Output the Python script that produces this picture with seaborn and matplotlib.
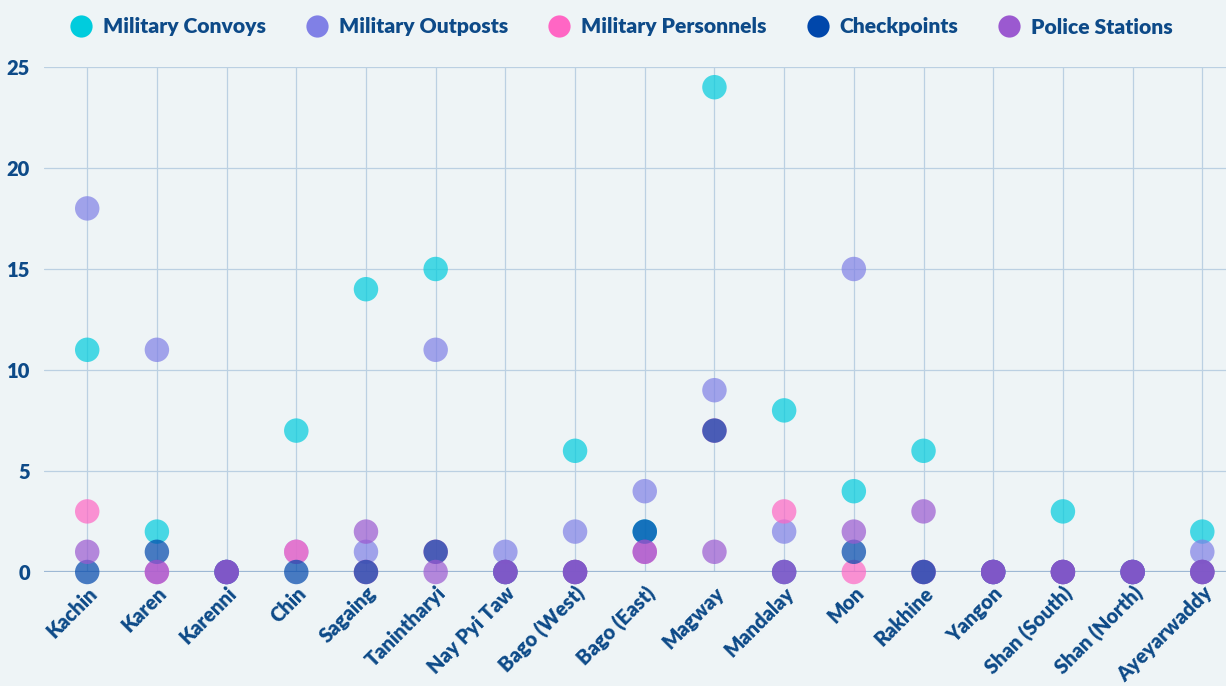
import numpy as np
import pandas as pd
import matplotlib
matplotlib.use("Agg")
import matplotlib.pyplot as plt
import seaborn as sns
from matplotlib.lines import Line2D

regions = ["Kachin", "Karen", "Karenni", "Chin", "Sagaing", "Tanintharyi", "Nay Pyi Taw",
           "Bago (West)", "Bago (East)", "Magway", "Mandalay", "Mon", "Rakhine", "Yangon",
           "Shan (South)", "Shan (North)", "Ayeyarwaddy"]
military_convoys = [11, 2, 0, 7, 14, 15, 0, 6, 2, 24, 8, 4, 6, 0, 3, 0, 2]
military_outposts = [18, 11, 0, 1, 1, 11, 1, 2, 4, 9, 2, 15, 0, 0, 0, 0, 1]
military_personnels = [3, 0, 0, 1, 0, 1, 0, 0, 1, 7, 3, 0, 0, 0, 0, 0, 0]
checkpoints = [0, 1, 0, 0, 0, 1, 0, 0, 2, 7, 0, 1, 0, 0, 0, 0, 0]
police_stations = [1, 0, 0, np.nan, 2, 0, 0, 0, 1, 1, 0, 2, 3, 0, 0, 0, 0]

series_names = ["Military Convoys", "Military Outposts", "Military Personnels", "Checkpoints", "Police Stations"]
series_values = [military_convoys, military_outposts, military_personnels, checkpoints, police_stations]
colors = ["#00CCDD", "#8080E6", "#FF66C4", "#0047AB", "#9B59D0"]

rows = []
for name, vals in zip(series_names, series_values):
    for r, v in zip(regions, vals):
        rows.append({"Region": r, "Series": name, "Value": v})
df = pd.DataFrame(rows).dropna()

sns.set_theme(style="white")
plt.rcParams["font.family"] = ["Lato", "DejaVu Sans"]
bg = "#EEF4F6"
text_color = "#0D4A88"
grid_color = "#BBD0E2"

fig = plt.figure(figsize=(12.26, 6.86), dpi=100, facecolor=bg)
ax = fig.add_axes([44 / 1226, 1 - 572 / 686, (1226 - 44) / 1226, (572 - 67) / 686])
ax.set_facecolor(bg)

xpos = {r: i for i, r in enumerate(regions)}
df["x"] = df["Region"].map(xpos)
sns.scatterplot(data=df, x="x", y="Value", hue="Series", hue_order=series_names,
                palette=colors, s=310, alpha=0.7, edgecolor="none", legend=False,
                ax=ax, zorder=3, clip_on=False)

ax.set_xlim(-0.62, 16.34)
ax.set_ylim(0, 25)
ax.set_xticks(range(len(regions)))
ax.set_xticklabels(regions, rotation=45, ha="right", rotation_mode="anchor",
                   fontsize=14.5, fontweight="heavy", color=text_color)
ax.set_yticks([0, 5, 10, 15, 20, 25])
ax.set_yticklabels(["0", "5", "10", "15", "20", "25"], fontsize=14.5, fontweight="heavy", color=text_color)
ax.tick_params(axis="both", length=0)
ax.tick_params(axis="x", pad=8)
ax.tick_params(axis="y", pad=10)
ax.grid(True, color=grid_color, linewidth=0.9)
ax.set_axisbelow(True)
for sp in ax.spines.values():
    sp.set_visible(False)
ax.axhline(0, color="#9DB8D4", linewidth=1.6, zorder=1)
ax.set_xlabel("")
ax.set_ylabel("")

handles = [Line2D([0], [0], marker="o", linestyle="none", markersize=16,
                  markerfacecolor=c, markeredgecolor="none") for c in colors]
leg = fig.legend(handles, series_names, loc="center", bbox_to_anchor=(0.503, 1 - 27 / 686),
                 ncol=5, frameon=False, handletextpad=0.05, columnspacing=1.4,
                 prop={"size": 15.2, "weight": "heavy"})
for t in leg.get_texts():
    t.set_color(text_color)

fig.savefig("out.png", dpi=100, facecolor=bg)
